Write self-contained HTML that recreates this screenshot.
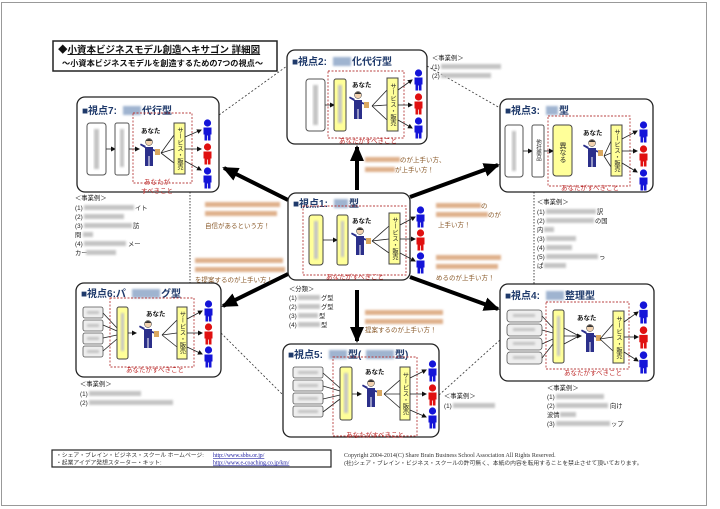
<!DOCTYPE html>
<html><head><meta charset="utf-8">
<style>
html,body{margin:0;padding:0;background:#fff;}
svg{display:block;}
text{font-family:"Liberation Sans","Noto Sans CJK JP",sans-serif;}
.t{font-size:10px;font-weight:bold;fill:#1f3a6b;}
.s{font-size:6.3px;fill:#222;}
.o{font-size:6.5px;fill:#8a5a2a;}
.r{font-size:6.5px;fill:#c03030;}
.a{font-size:6.5px;font-weight:bold;fill:#111;}
.v{font-size:6.2px;fill:#222;writing-mode:tb;}
.bx{fill:#fff;stroke:#222;stroke-width:1.3;}
.gr{fill:#fff;stroke:#555;stroke-width:1;}
.ye{fill:#ffff99;stroke:#444;stroke-width:1;}
.rg{fill:none;stroke:#b84040;stroke-width:0.9;stroke-dasharray:2 1.5;}
.ln{stroke:#222;stroke-width:0.8;fill:none;}
.bl{fill:#c4c4c4;filter:url(#bf);}
.bb{fill:#9fb4d0;filter:url(#bf);}
.bo{fill:#dfb18c;filter:url(#bf);}
.sm{fill:#eee;stroke:#555;stroke-width:0.8;}
</style></head><body>
<svg width="720" height="509" viewBox="0 0 720 509" xmlns="http://www.w3.org/2000/svg">
<defs>
<filter id="bf" x="-20%" y="-50%" width="140%" height="200%"><feGaussianBlur stdDeviation="1"/></filter>
<marker id="ah" markerWidth="5" markerHeight="5" refX="4" refY="2.5" orient="auto" markerUnits="userSpaceOnUse"><path d="M0,0 L5,2.5 L0,5 z" fill="#111"/></marker>
<marker id="big" markerWidth="16" markerHeight="14" refX="14" refY="7" orient="auto" markerUnits="userSpaceOnUse"><path d="M0,0 L16,7 L0,14 z" fill="#000"/></marker>
<symbol id="fig" viewBox="0 0 10 22"><circle cx="5" cy="4" r="3.6"/><path d="M1,8.5 h8 v7 h-1 v6 h-2.6 v-5 h-0.8 v5 h-2.6 v-6 h-1 z"/></symbol>
<symbol id="man" viewBox="0 0 22 30"><circle cx="9" cy="5" r="3.5" fill="#f2d2b0" stroke="#333" stroke-width="0.5"/><path d="M5.5,4 q3.5,-4 7,0" fill="#333"/><path d="M5,10 h8 v9 h-8 z" fill="#2b2f8a"/><path d="M5,19 h3.5 v10 h-3.5 z M9.5,19 h3.5 v10 h-3.5 z" fill="#2b2f8a"/><path d="M5,11 l-5,-3 l0.8,-1.5 l5,2.5z" fill="#2b2f8a"/><path d="M13,12 l5,2 l-0.5,1.2 l-5,-1.5z" fill="#2b2f8a"/><path d="M15,12 h5 v6 h-5 z" fill="#d9a860"/></symbol>
</defs>

<rect x="1.5" y="2.5" width="705" height="503" fill="none" stroke="#999" stroke-width="1"/>

<rect x="53" y="41" width="224" height="30" fill="#fff" stroke="#222" stroke-width="1.5"/>
<text x="58" y="53" style="font-size:9.5px;font-weight:bold;fill:#111;">◆<tspan text-decoration="underline">小資本ビジネスモデル創造ヘキサゴン 詳細図</tspan></text>
<text x="62" y="66" style="font-size:8.2px;font-weight:bold;fill:#111;">～小資本ビジネスモデルを創造するための7つの視点～</text>

<path d="M219,115 L287,66 M427,66 L500,108 M221,333 L283,395 M439,395 L500,340" stroke="#333" stroke-width="0.8" stroke-dasharray="2 2" fill="none"/>
<path d="M190,192 V283 M534,192 V284" stroke="#333" stroke-width="0.9" stroke-dasharray="1.5 1.5" fill="none"/>

<g stroke="#000" stroke-width="4" fill="none">
<line x1="288" y1="200" x2="224" y2="168" marker-end="url(#big)"/>
<line x1="357" y1="190" x2="357" y2="147" marker-end="url(#big)"/>
<line x1="410" y1="197" x2="498" y2="165" marker-end="url(#big)"/>
<line x1="288" y1="274" x2="223" y2="306" marker-end="url(#big)"/>
<line x1="357" y1="290" x2="357" y2="341" marker-end="url(#big)"/>
<line x1="410" y1="277" x2="498" y2="309" marker-end="url(#big)"/>
</g>

<!-- BOX 7 -->
<g transform="translate(77,97)">
<rect class="bx" x="0" y="0" width="142" height="95" rx="8"/>
<text class="t" x="5" y="17">■視点7:</text><rect class="bb" x="46" y="9" width="18" height="9"/><text class="t" x="65" y="17">代行型</text>
<rect class="gr" x="10" y="26" width="19" height="52" rx="3"/><rect class="bl" x="17" y="32" width="5" height="40"/>
<line class="ln" x1="29" y1="52" x2="38" y2="52" marker-end="url(#ah)"/>
<rect class="gr" x="38" y="26" width="14" height="52" rx="2"/><rect class="bl" x="43" y="32" width="4" height="38"/>
<line class="ln" x1="52" y1="52" x2="62" y2="52" marker-end="url(#ah)"/>
<rect class="rg" x="56" y="16" width="59" height="70"/>
<text class="a" x="64" y="36">あなた</text>
<use href="#man" x="63" y="40" width="22" height="30"/>
<path class="ln" d="M84,56 L97,38 M84,56 L97,52 M84,56 L97,66"/>
<rect class="ye" x="97" y="26" width="11" height="51"/>
<text class="v" x="102.5" y="30">サービス・販売</text>
<line class="ln" x1="108" y1="40" x2="124" y2="33" marker-end="url(#ah)"/><line class="ln" x1="108" y1="52" x2="124" y2="52" marker-end="url(#ah)"/><line class="ln" x1="108" y1="64" x2="124" y2="73" marker-end="url(#ah)"/>
<use href="#fig" x="125" y="22" width="11" height="22" fill="#1414d8"/>
<use href="#fig" x="125" y="46" width="11" height="22" fill="#e01010"/>
<use href="#fig" x="125" y="70" width="11" height="22" fill="#1414d8"/>
<text class="r" x="80" y="87" text-anchor="middle">あなたが</text>
<text class="r" x="80" y="96" text-anchor="middle">すべきこと</text>
</g>

<!-- BOX 2 -->
<g transform="translate(287,50)">
<rect class="bx" x="0" y="0" width="140" height="94" rx="8"/>
<text class="t" x="5" y="15">■視点2:</text><rect class="bb" x="46" y="7" width="18" height="9"/><text class="t" x="65" y="15">化代行型</text>
<rect class="gr" x="19" y="29" width="19" height="52" rx="3"/><rect class="bl" x="26" y="35" width="5" height="40"/>
<line class="ln" x1="38" y1="55" x2="47" y2="55" marker-end="url(#ah)"/>
<rect class="rg" x="41" y="21" width="76" height="67"/>
<rect class="ye" x="47" y="29" width="12" height="52" rx="2"/><rect class="bl" x="51" y="35" width="4" height="38"/>
<text class="a" x="65" y="37">あなた</text>
<use href="#man" x="62" y="40" width="22" height="30"/>
<path class="ln" d="M85,56 L100,40 M85,56 L100,55 M85,56 L100,70"/>
<rect class="ye" x="100" y="28" width="11" height="53"/>
<text class="v" x="105.5" y="33">サービス・販売</text>
<line class="ln" x1="111" y1="40" x2="125" y2="30" marker-end="url(#ah)"/><line class="ln" x1="111" y1="55" x2="125" y2="55" marker-end="url(#ah)"/><line class="ln" x1="111" y1="70" x2="125" y2="78" marker-end="url(#ah)"/>
<use href="#fig" x="126" y="19" width="11" height="22" fill="#1414d8"/>
<use href="#fig" x="126" y="43" width="11" height="22" fill="#e01010"/>
<use href="#fig" x="126" y="67" width="11" height="22" fill="#1414d8"/>
<text class="r" x="81" y="93" text-anchor="middle">あなたがすべきこと</text>
</g>
<text class="s" x="432" y="60">＜事業例＞</text>
<text class="s" x="432" y="69">(1)</text><rect class="bl" x="441" y="64" width="60" height="5"/>
<text class="s" x="432" y="78">(2)</text><rect class="bl" x="441" y="73" width="50" height="5"/>

<!-- BOX 3 -->
<g transform="translate(500,99)">
<rect class="bx" x="0" y="0" width="153" height="93" rx="8"/>
<text class="t" x="5" y="15">■視点3:</text><rect class="bb" x="46" y="7" width="12" height="9"/><text class="t" x="59" y="15">型</text>
<rect class="gr" x="5" y="26" width="18" height="52" rx="3"/><rect class="bl" x="12" y="32" width="4" height="40"/>
<line class="ln" x1="23" y1="52" x2="32" y2="52" marker-end="url(#ah)"/>
<rect class="gr" x="32" y="26" width="12" height="52" rx="2"/><text class="v" x="38" y="40" style="font-size:5.5px">他社商品</text>
<line class="ln" x1="44" y1="52" x2="53" y2="52" marker-end="url(#ah)"/>
<rect class="rg" x="48" y="17" width="82" height="70"/>
<rect class="ye" x="53" y="26" width="19" height="51" rx="3"/><text class="v" x="62.5" y="43" style="font-size:7px">異なる</text>
<text class="a" x="83" y="36">あなた</text>
<use href="#man" x="83" y="39" width="22" height="30"/>
<path class="ln" d="M104,57 L111,42 M104,57 L111,54 M104,57 L111,68"/>
<rect class="ye" x="111" y="26" width="11" height="51"/>
<text class="v" x="116.5" y="30">サービス・販売</text>
<line class="ln" x1="122" y1="40" x2="137" y2="32" marker-end="url(#ah)"/><line class="ln" x1="122" y1="52" x2="137" y2="52" marker-end="url(#ah)"/><line class="ln" x1="122" y1="64" x2="137" y2="73" marker-end="url(#ah)"/>
<use href="#fig" x="138" y="22" width="11" height="22" fill="#1414d8"/>
<use href="#fig" x="138" y="46" width="11" height="22" fill="#e01010"/>
<use href="#fig" x="138" y="70" width="11" height="22" fill="#1414d8"/>
<text class="r" x="90" y="91" text-anchor="middle">あなたがすべきこと</text>
</g>
<g>
<text class="s" x="537" y="204">＜事業例＞</text>
<text class="s" x="537" y="214">(1)</text><rect class="bl" x="546" y="209" width="50" height="5"/><text class="s" x="597" y="214">訳</text>
<text class="s" x="537" y="223">(2)</text><rect class="bl" x="546" y="218" width="48" height="5"/><text class="s" x="595" y="223">の国</text>
<text class="s" x="537" y="232">内</text><rect class="bl" x="544" y="227" width="10" height="5"/>
<text class="s" x="537" y="241">(3)</text><rect class="bl" x="546" y="236" width="30" height="5"/>
<text class="s" x="537" y="250">(4)</text><rect class="bl" x="546" y="245" width="26" height="5"/>
<text class="s" x="537" y="259">(5)</text><rect class="bl" x="546" y="254" width="52" height="5"/><text class="s" x="599" y="259">っ</text>
<text class="s" x="537" y="268">ぱ</text><rect class="bl" x="544" y="263" width="22" height="5"/>
</g>

<!-- BOX 1 -->
<g transform="translate(288,193)">
<rect class="bx" x="0" y="0" width="122" height="87" rx="8"/>
<text class="t" x="5" y="14">■視点1:</text><rect class="bb" x="46" y="6" width="14" height="9"/><text class="t" x="61" y="14">型</text>
<rect class="rg" x="15" y="13" width="103" height="69"/>
<rect class="ye" x="21" y="22" width="14" height="50" rx="3"/><rect class="bl" x="26" y="28" width="4" height="38"/>
<line class="ln" x1="35" y1="47" x2="49" y2="47" marker-end="url(#ah)"/>
<rect class="ye" x="49" y="22" width="11" height="50" rx="2"/><rect class="bl" x="53" y="28" width="3" height="36"/>
<text class="a" x="64" y="30">あなた</text>
<use href="#man" x="63" y="33" width="22" height="30"/>
<path class="ln" d="M84,48 L101,33 M84,48 L101,46 M84,48 L101,60"/>
<rect class="ye" x="101" y="20" width="11" height="51"/>
<text class="v" x="106.5" y="24">サービス・販売</text>
<line class="ln" x1="112" y1="32" x2="127" y2="24" marker-end="url(#ah)"/><line class="ln" x1="112" y1="46" x2="127" y2="46" marker-end="url(#ah)"/><line class="ln" x1="112" y1="60" x2="127" y2="68" marker-end="url(#ah)"/>
<use href="#fig" x="127" y="13" width="11" height="22" fill="#1414d8"/>
<use href="#fig" x="127" y="36" width="11" height="22" fill="#e01010"/>
<use href="#fig" x="127" y="59" width="11" height="22" fill="#1414d8"/>
<text class="r" x="67" y="86" text-anchor="middle">あなたがすべきこと</text>
</g>
<text class="s" x="289" y="291">＜分類＞</text>
<text class="s" x="289" y="300">(1)</text><rect class="bl" x="298" y="295" width="22" height="5"/><text class="s" x="321" y="300">グ型</text>
<text class="s" x="289" y="309">(2)</text><rect class="bl" x="298" y="304" width="22" height="5"/><text class="s" x="321" y="309">グ型</text>
<text class="s" x="289" y="318">(3)</text><rect class="bl" x="298" y="313" width="20" height="5"/><text class="s" x="319" y="318">型</text>
<text class="s" x="289" y="327">(4)</text><rect class="bl" x="298" y="322" width="22" height="5"/><text class="s" x="321" y="327">型</text>

<rect class="bo" x="205" y="202" width="75" height="5"/><rect class="bo" x="205" y="211" width="72" height="5"/>
<text class="o" x="205" y="228">自信があるという方！</text>
<rect class="bo" x="195" y="258" width="88" height="5"/><rect class="bo" x="195" y="267" width="90" height="5"/>
<text class="o" x="195" y="282">を提案するのが上手い方！</text>
<rect class="bo" x="365" y="157" width="35" height="5"/><text class="o" x="400" y="162">のが上手い方、</text>
<rect class="bo" x="365" y="167" width="30" height="5"/><text class="o" x="395" y="172">が上手い方！</text>
<rect class="bo" x="436" y="203" width="45" height="5"/><text class="o" x="481" y="208">の</text>
<rect class="bo" x="436" y="212" width="52" height="5"/><text class="o" x="488" y="217">のが</text>
<text class="o" x="438" y="227">上手い方！</text>
<rect class="bo" x="436" y="255" width="65" height="5"/><rect class="bo" x="436" y="264" width="62" height="5"/>
<text class="o" x="436" y="280">めるのが上手い方！</text>
<rect class="bo" x="365" y="310" width="78" height="5"/><rect class="bo" x="365" y="319" width="78" height="5"/>
<text class="o" x="365" y="332">提案するのが上手い方！</text>

<text class="s" x="75" y="200">＜事業例＞</text>
<text class="s" x="75" y="210">(1)</text><rect class="bl" x="84" y="205" width="50" height="5"/><text class="s" x="135" y="210">イト</text>
<text class="s" x="75" y="219">(2)</text><rect class="bl" x="84" y="214" width="40" height="5"/>
<text class="s" x="75" y="228">(3)</text><rect class="bl" x="84" y="223" width="48" height="5"/><text class="s" x="133" y="228">訪</text>
<text class="s" x="75" y="237">問</text><rect class="bl" x="83" y="232" width="10" height="5"/>
<text class="s" x="75" y="246">(4)</text><rect class="bl" x="84" y="241" width="42" height="5"/><text class="s" x="128" y="246">メー</text>
<text class="s" x="75" y="255">カー</text><rect class="bl" x="86" y="250" width="30" height="5"/>

<!-- BOX 6 -->
<g transform="translate(76,283)">
<rect class="bx" x="0" y="0" width="145" height="94" rx="8"/>
<text class="t" x="5" y="14">■視点6:パ</text><rect class="bb" x="56" y="6" width="28" height="9"/><text class="t" x="85" y="14">グ型</text>
<rect class="sm" x="7" y="24" width="20" height="11" rx="2"/><rect class="sm" x="7" y="37" width="20" height="11" rx="2"/><rect class="sm" x="7" y="50" width="20" height="11" rx="2"/><rect class="sm" x="7" y="63" width="20" height="11" rx="2"/>
<rect class="bl" x="11" y="28" width="12" height="3"/><rect class="bl" x="11" y="41" width="12" height="3"/><rect class="bl" x="11" y="54" width="12" height="3"/><rect class="bl" x="11" y="67" width="12" height="3"/>
<path class="ln" d="M27,30 L41,45 M27,42 L41,48 M27,55 L41,52 M27,68 L41,56"/>
<rect class="rg" x="34" y="15" width="84" height="69"/>
<rect class="ye" x="41" y="24" width="11" height="52" rx="2"/><rect class="bl" x="45" y="30" width="3" height="38"/>
<line class="ln" x1="52" y1="50" x2="60" y2="50" marker-end="url(#ah)"/>
<text class="a" x="70" y="33">あなた</text>
<use href="#man" x="63" y="36" width="22" height="30"/>
<path class="ln" d="M86,52 L101,37 M86,52 L101,50 M86,52 L101,64"/>
<rect class="ye" x="101" y="24" width="10" height="52"/>
<text class="v" x="106" y="28">サービス・販売</text>
<line class="ln" x1="111" y1="36" x2="126" y2="28" marker-end="url(#ah)"/><line class="ln" x1="111" y1="50" x2="126" y2="50" marker-end="url(#ah)"/><line class="ln" x1="111" y1="64" x2="126" y2="71" marker-end="url(#ah)"/>
<use href="#fig" x="127" y="17" width="11" height="22" fill="#1414d8"/>
<use href="#fig" x="127" y="40" width="11" height="22" fill="#e01010"/>
<use href="#fig" x="127" y="63" width="11" height="22" fill="#1414d8"/>
<text class="r" x="79" y="89" text-anchor="middle">あなたがすべきこと</text>
</g>
<text class="s" x="80" y="386">＜事業例＞</text>
<text class="s" x="80" y="396">(1)</text><rect class="bl" x="89" y="391" width="52" height="5"/>
<text class="s" x="80" y="405">(2)</text><rect class="bl" x="89" y="400" width="84" height="5"/>

<!-- BOX 5 -->
<g transform="translate(283,344)">
<rect class="bx" x="0" y="0" width="156" height="93" rx="8"/>
<text class="t" x="5" y="14">■視点5:</text><rect class="bb" x="46" y="6" width="18" height="9"/><text class="t" x="65" y="14">型(</text><rect class="bb" x="83" y="6" width="28" height="9"/><text class="t" x="112" y="14">型)</text>
<rect class="sm" x="10" y="23" width="30" height="11" rx="2"/><rect class="sm" x="10" y="36" width="30" height="11" rx="2"/><rect class="sm" x="10" y="49" width="30" height="11" rx="2"/><rect class="sm" x="10" y="62" width="30" height="11" rx="2"/>
<rect class="bl" x="15" y="27" width="20" height="3"/><rect class="bl" x="15" y="40" width="20" height="3"/><rect class="bl" x="15" y="53" width="20" height="3"/><rect class="bl" x="15" y="66" width="20" height="3"/>
<path class="ln" d="M40,29 L57,44 M40,42 L57,47 M40,55 L57,51 M40,68 L57,55"/>
<rect class="rg" x="50" y="13" width="84" height="79"/>
<rect class="ye" x="57" y="23" width="12" height="53" rx="2"/><rect class="bl" x="61" y="29" width="4" height="40"/>
<line class="ln" x1="69" y1="50" x2="78" y2="50" marker-end="url(#ah)"/>
<text class="a" x="82" y="30">あなた</text>
<use href="#man" x="79" y="34" width="22" height="30"/>
<path class="ln" d="M101,50 L117,36 M101,50 L117,50 M101,50 L117,64"/>
<rect class="ye" x="117" y="23" width="10" height="53"/>
<text class="v" x="122" y="28">サービス・販売</text>
<line class="ln" x1="127" y1="34" x2="143" y2="26" marker-end="url(#ah)"/><line class="ln" x1="127" y1="50" x2="143" y2="50" marker-end="url(#ah)"/><line class="ln" x1="127" y1="66" x2="143" y2="73" marker-end="url(#ah)"/>
<use href="#fig" x="144" y="16" width="11" height="22" fill="#1414d8"/>
<use href="#fig" x="144" y="40" width="11" height="22" fill="#e01010"/>
<use href="#fig" x="144" y="63" width="11" height="22" fill="#1414d8"/>
<text class="r" x="92" y="93" text-anchor="middle">あなたがすべきこと</text>
</g>
<text class="s" x="444" y="398">＜事業例＞</text>
<text class="s" x="444" y="408">(1)</text><rect class="bl" x="453" y="403" width="42" height="5"/>

<!-- BOX 4 -->
<g transform="translate(500,284)">
<rect class="bx" x="0" y="0" width="154" height="97" rx="8"/>
<text class="t" x="5" y="15">■視点4:</text><rect class="bb" x="46" y="7" width="18" height="9"/><text class="t" x="65" y="15">整理型</text>
<rect class="sm" x="7" y="26" width="35" height="12" rx="3"/><rect class="sm" x="7" y="40" width="35" height="12" rx="3"/><rect class="sm" x="7" y="54" width="35" height="12" rx="3"/><rect class="sm" x="7" y="68" width="35" height="12" rx="3"/>
<rect class="bl" x="13" y="30" width="22" height="3"/><rect class="bl" x="13" y="44" width="22" height="3"/><rect class="bl" x="13" y="58" width="22" height="3"/><rect class="bl" x="13" y="72" width="22" height="3"/>
<path class="ln" d="M42,32 L53,44 M42,46 L53,49 M42,60 L53,55 M42,74 L53,60"/>
<rect class="rg" x="46" y="18" width="83" height="67"/>
<rect class="ye" x="53" y="26" width="11" height="53" rx="2"/><rect class="bl" x="57" y="32" width="3" height="40"/>
<path class="ln" d="M64,44 L79,52 M64,52 L79,52 M64,60 L79,52"/>
<line class="ln" x1="72" y1="52" x2="81" y2="52" marker-end="url(#ah)"/>
<text class="a" x="77" y="36">あなた</text>
<use href="#man" x="81" y="39" width="22" height="30"/>
<path class="ln" d="M100,55 L113,40 M100,55 L113,53 M100,55 L113,67"/>
<rect class="ye" x="113" y="27" width="11" height="52"/>
<text class="v" x="118.5" y="32">サービス・販売</text>
<line class="ln" x1="124" y1="38" x2="138" y2="28" marker-end="url(#ah)"/><line class="ln" x1="124" y1="53" x2="138" y2="53" marker-end="url(#ah)"/><line class="ln" x1="124" y1="68" x2="138" y2="77" marker-end="url(#ah)"/>
<use href="#fig" x="138" y="17" width="11" height="23" fill="#1414d8"/>
<use href="#fig" x="138" y="42" width="11" height="23" fill="#e01010"/>
<use href="#fig" x="138" y="67" width="11" height="23" fill="#1414d8"/>
<text class="r" x="93" y="91" text-anchor="middle">あなたがすべきこと</text>
</g>
<text class="s" x="547" y="390">＜事業例＞</text>
<text class="s" x="547" y="399">(1)</text><rect class="bl" x="556" y="394" width="48" height="5"/>
<text class="s" x="547" y="408">(2)</text><rect class="bl" x="556" y="403" width="52" height="5"/><text class="s" x="610" y="408">向け</text>
<text class="s" x="547" y="417">波情</text><rect class="bl" x="560" y="412" width="16" height="5"/>
<text class="s" x="547" y="426">(3)</text><rect class="bl" x="556" y="421" width="54" height="5"/><text class="s" x="611" y="426">ップ</text>

<rect x="52" y="450" width="279" height="17" fill="#fff" stroke="#222" stroke-width="1.2"/>
<text x="56" y="457" style="font-size:5.8px;fill:#333;">・シェア・ブレイン・ビジネス・スクール ホームページ:</text>
<text x="56" y="464.5" style="font-size:5.8px;fill:#333;">・起業アイデア発想スターター・キット:</text>
<text x="213" y="457" style="font-size:5.8px;fill:#1a1aa0;text-decoration:underline;font-family:'Liberation Serif',serif;">http://www.sbbs.or.jp/</text>
<text x="213" y="464.5" style="font-size:5.8px;fill:#1a1aa0;text-decoration:underline;font-family:'Liberation Serif',serif;">http://www.e-coaching.co.jp/km/</text>
<text x="344" y="457" style="font-size:6px;fill:#333;font-family:'Liberation Serif','Noto Serif CJK SC',serif;">Copyright 2004-2014(C)  Share Brain Business School  Association  All Rights Reserved.</text>
<text x="344" y="465" style="font-size:5.8px;fill:#333;">(社)シェア・ブレイン・ビジネス・スクールの許可無く、本紙の内容を転用することを禁止させて頂いております。</text>
</svg>
</body></html>
